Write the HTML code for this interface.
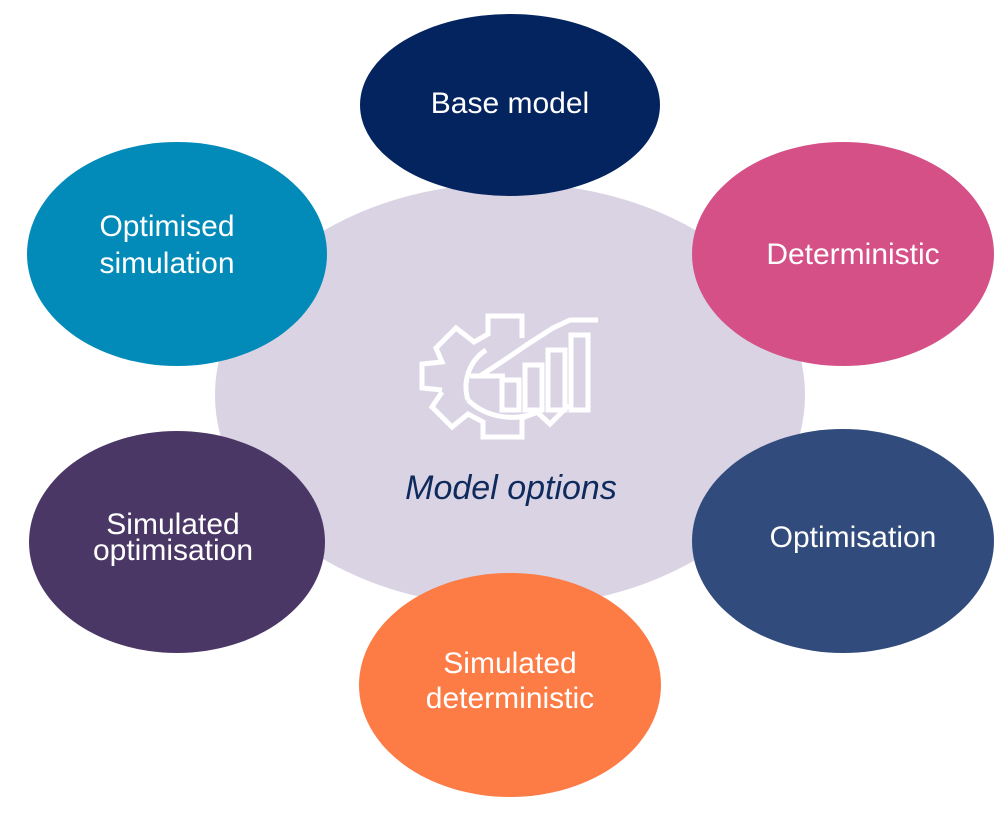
<!DOCTYPE html>
<html><head><style>
body{margin:0;width:1000px;height:826px;background:#fff;overflow:hidden}
</style></head><body>
<svg width="1000" height="826" viewBox="0 0 1000 826" xmlns="http://www.w3.org/2000/svg" font-family="Liberation Sans, sans-serif">
<ellipse cx="510" cy="395" rx="295" ry="212" fill="#d9d3e4"/>
<g fill="none" stroke="#fff" stroke-width="5" stroke-linejoin="miter">
<path d="M442 390 L422 388 L422 364 L442 362 L436 348 L456 328 L474 342 L488 334 L488 316 L522 316 L522 338"/>
<path d="M442 392 L432 407 L452 427 L468 414 L483 422 L483 437 L522 437 L522 418 L537 412 L550 424 L569 405"/>
<path d="M468 400 A44 44 0 0 1 486 350 M468 400 A58 50 0 0 0 542 410"/>
<path d="M470 376 L505 376"/>
<rect x="502" y="380" width="17" height="30"/>
<rect x="525" y="365" width="17" height="45"/>
<rect x="548" y="350" width="17" height="60"/>
<rect x="571" y="335" width="17" height="75"/>
<path d="M480 376 L503 361 L528 344 L553 328 L570 320 L598 320"/>
</g>
<text x="511" y="499" font-size="34" font-style="italic" fill="#0f2a5c" text-anchor="middle">Model options</text>
<g font-size="30" fill="#fff" text-anchor="middle">
<ellipse cx="510" cy="105" rx="150" ry="91" fill="#03245f"/>
<text x="510" y="113">Base model</text>
<ellipse cx="843" cy="254" rx="151" ry="112" fill="#d45087"/>
<text x="853" y="264">Deterministic</text>
<ellipse cx="177" cy="254" rx="150" ry="112" fill="#028ab9"/>
<text x="167" y="236">Optimised</text><text x="167" y="273">simulation</text>
<ellipse cx="177" cy="542" rx="148" ry="111" fill="#4a3766"/>
<text x="173" y="534">Simulated</text><text x="173" y="560">optimisation</text>
<ellipse cx="843" cy="541" rx="151" ry="112" fill="#314b7c"/>
<text x="853" y="547">Optimisation</text>
<ellipse cx="510" cy="685" rx="151" ry="112" fill="#fd7b45"/>
<text x="510" y="673">Simulated</text><text x="510" y="708">deterministic</text>
</g>
</svg>
</body></html>
